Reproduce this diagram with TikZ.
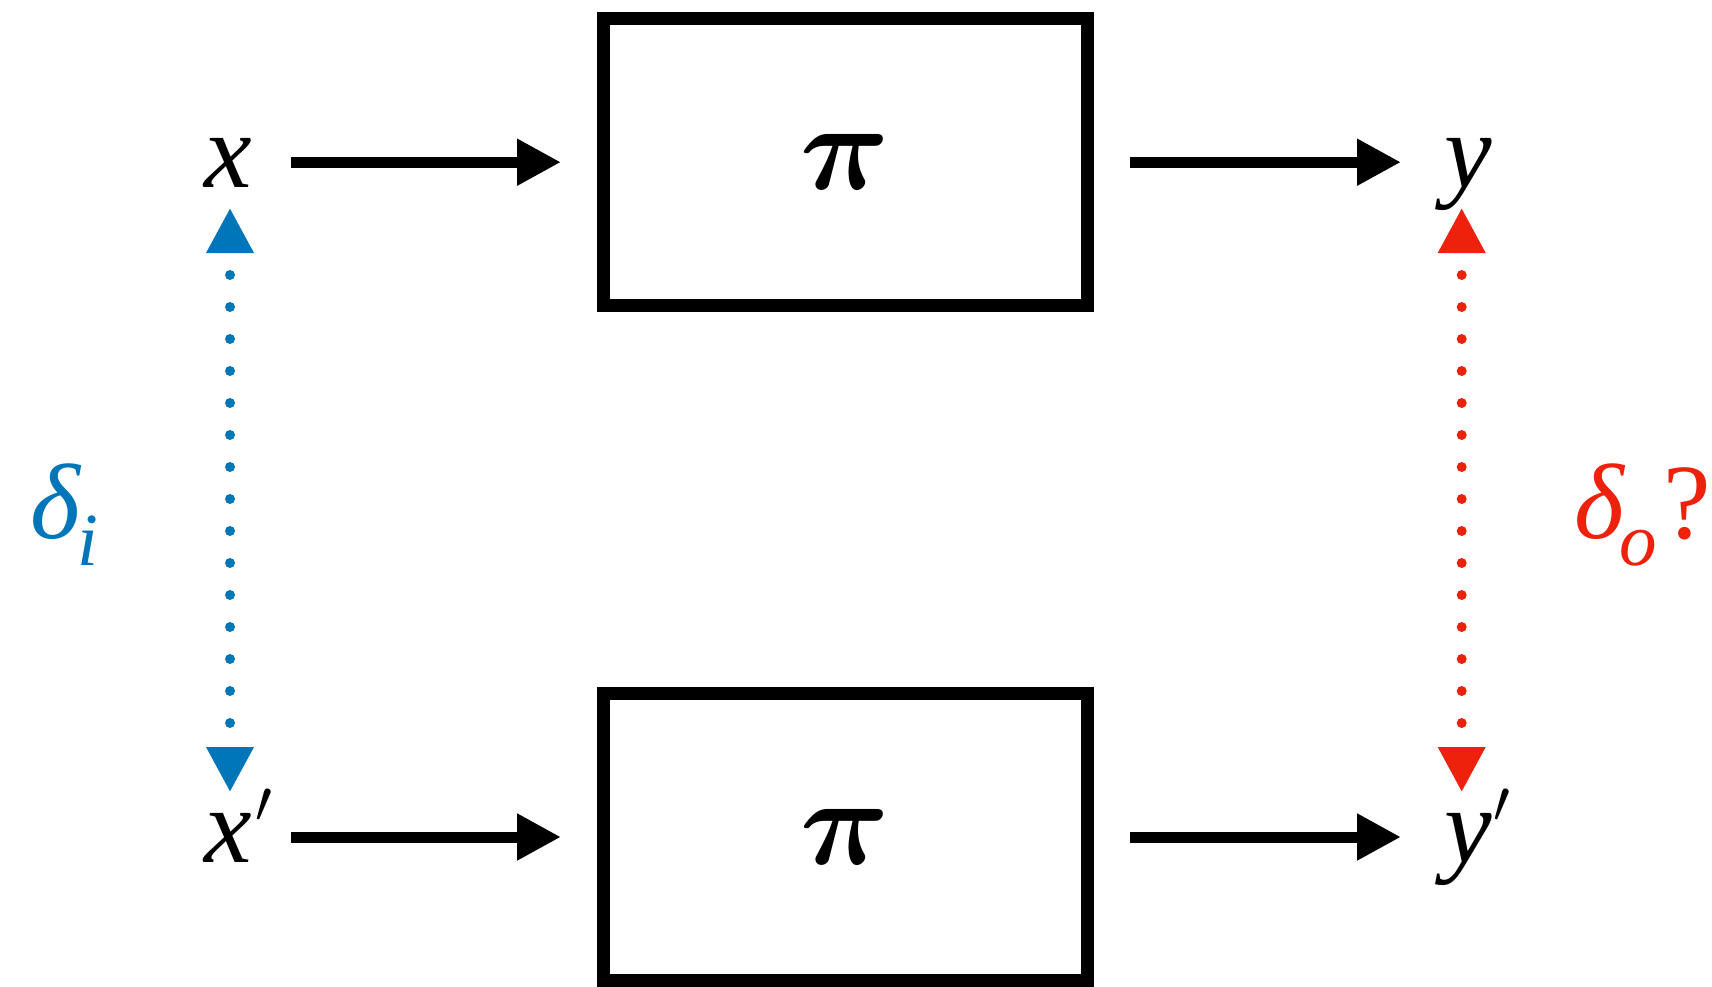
\RequirePackage{fix-cm}
\documentclass[tikz,border=0pt]{standalone}
\usepackage{fontspec}
\setmainfont{Liberation Serif}
\usetikzlibrary{arrows.meta}
\definecolor{kblue}{RGB}{0,118,186}
\definecolor{kred}{RGB}{238,34,12}
\newcommand{\mypr}{\raisebox{40pt}{\fontsize{60}{60}\selectfont$\prime$}}
\begin{document}
\begin{tikzpicture}[x=1pt,y=-1pt,
  lab/.style={font=\fontsize{107}{110}\selectfont\itshape, inner sep=0pt, anchor=base west},
  sublab/.style={font=\fontsize{107}{110}\selectfont, inner sep=0pt, anchor=base west},
  pibox/.style={draw, line width=13pt, minimum width=484pt, minimum height=287pt, inner sep=0pt,
    font=\fontsize{124}{124}\selectfont\boldmath},
  arr/.style={line width=11pt, -{Triangle[length=44pt,width=44pt]}},
  dotline/.style={line width=10pt, line cap=round, dash pattern=on 0pt off 32pt, dash phase=7.5pt,
    {Triangle[length=45pt,width=45pt]}-{Triangle[length=45pt,width=45pt]}}
]
\useasboundingbox (0,0) rectangle (1712,987);
\node[pibox] (box1) at (845.5,162.2) {$\pi$};
\node[pibox] (box2) at (845.5,837) {$\pi$};
\node[lab] (x) at (204,187) {x};
\node[lab] (xp) at (204,862) {x\kern4pt\mypr};
\node[lab] (y) at (1444,187) {y};
\node[lab] (yp) at (1444,862) {y\kern2pt\mypr};
\node[sublab, text=kblue] (di) at (30,538) {\textit{δ}\kern-4pt\raisebox{-27pt}{\fontsize{75}{75}\selectfont\textit{i}}};
\node[sublab, text=kred] (do) at (1574,538) {\textit{δ}\kern-6pt\raisebox{-27pt}{\fontsize{75}{75}\selectfont\textit{o}}\kern7pt?};
\draw[arr] ([xshift=87pt]x.base west |- box1.west) -- ([xshift=-36pt]box1.west);
\draw[arr] ([xshift=36pt]box1.east) -- ([xshift=-43pt]y.base west |- box1.east);
\draw[arr] ([xshift=87pt]xp.base west |- box2.west) -- ([xshift=-36pt]box2.west);
\draw[arr] ([xshift=36pt]box2.east) -- ([xshift=-43pt]yp.base west |- box2.east);
\draw[dotline, color=kblue] ([xshift=26pt,yshift=-21pt]x.base west) -- ([xshift=26pt,yshift=70pt]xp.base west);
\draw[dotline, color=kred] ([xshift=17.7pt,yshift=-21pt]y.base west) -- ([xshift=17.7pt,yshift=70pt]yp.base west);
\end{tikzpicture}
\end{document}
